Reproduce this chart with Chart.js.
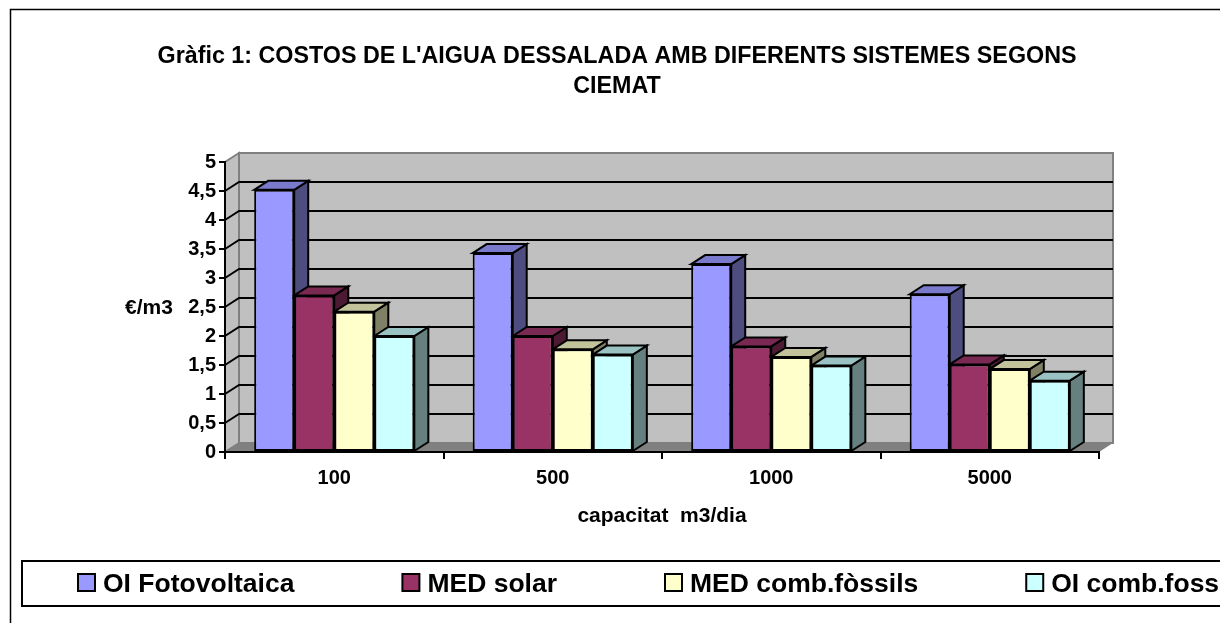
<!DOCTYPE html>
<html>
<head>
<meta charset="utf-8">
<title>Costos de l'aigua dessalada</title>
<script src="https://cdn.jsdelivr.net/npm/chart.js@4"></script>
<style>
  html, body { margin: 0; padding: 0; background: #fff; overflow: hidden; }
  canvas { display: block; }
</style>
</head>
<body>
<canvas id="costos" width="1220" height="623"></canvas>
<script>

/* data */
const categories = ['100', '500', '1000', '5000'];
const seriesNames = ['OI Fotovoltaica', 'MED solar', 'MED comb.fòssils', 'OI comb.fossils'];
const oiFotovoltaica = [4.52, 3.43, 3.24, 2.72];
const medSolar = [2.7, 2.0, 1.82, 1.51];
const medCombFossils = [2.42, 1.77, 1.64, 1.43];
const oiCombFossils = [2.0, 1.68, 1.49, 1.23];
const yTickLabels = ['0', '0,5', '1', '1,5', '2', '2,5', '3', '3,5', '4', '4,5', '5'];

const chartTitle = ["Gràfic 1: COSTOS DE L'AIGUA DESSALADA AMB DIFERENTS SISTEMES SEGONS", 'CIEMAT'];
const yTitle = '€/m3';
const xTitle = 'capacitat  m3/dia';

const frontColors = ['#9999FF', '#993366', '#FFFFCC', '#CCFFFF'];
const topColors = ['#7A7ACC', '#7A2952', '#C2C29B', '#9BC2C2'];
const sideColors = ['#4D4D80', '#4D1A33', '#808066', '#668080'];

const FONT = '"Liberation Sans", Arial, sans-serif';
const DEPTH_X = 14;
const DEPTH_Y = 9;

function poly(ctx, pts, fill, stroke, lw) {
    ctx.beginPath();
    pts.forEach((p, i) => i ? ctx.lineTo(p[0], p[1]) : ctx.moveTo(p[0], p[1]));
    ctx.closePath();
    ctx.fillStyle = fill;
    ctx.fill();
    if (stroke) {
        ctx.strokeStyle = stroke;
        ctx.lineWidth = lw;
        ctx.lineJoin = 'miter';
        ctx.stroke();
    }
}

/* walls and floor behind the axes */
const wallsPlugin = {
    id: 'walls',
    beforeDraw(chart) {
        const ctx = chart.ctx;
        const a = chart.chartArea;
        const y = chart.scales.y;
        ctx.save();
        poly(ctx, [[a.left, a.bottom], [a.left + DEPTH_X, a.bottom - DEPTH_Y], [a.left + DEPTH_X, a.top - DEPTH_Y], [a.left, a.top]], '#C0C0C0', '#808080', 2);
        poly(ctx, [[a.left + DEPTH_X, a.top - DEPTH_Y], [a.right + DEPTH_X, a.top - DEPTH_Y], [a.right + DEPTH_X, a.bottom - DEPTH_Y], [a.left + DEPTH_X, a.bottom - DEPTH_Y]], '#C0C0C0', '#808080', 2);
        poly(ctx, [[a.left, a.bottom], [a.left + DEPTH_X, a.bottom - DEPTH_Y], [a.right + DEPTH_X, a.bottom - DEPTH_Y], [a.right, a.bottom]], '#808080');
        ctx.strokeStyle = '#000';
        ctx.lineWidth = 2;
        y.ticks.forEach(t => {
            if (t.value <= 0 || t.value >= 5) return;
            const py = y.getPixelForValue(t.value);
            ctx.beginPath();
            ctx.moveTo(a.left, py);
            ctx.lineTo(a.left + DEPTH_X, py - DEPTH_Y);
            ctx.lineTo(a.right + DEPTH_X, py - DEPTH_Y);
            ctx.stroke();
        });
        ctx.restore();
    },
    /* top and side of each bar, the bar itself comes from Chart.js on top of these */
    beforeDatasetsDraw(chart) {
        const ctx = chart.ctx;
        ctx.save();
        for (let d = 0; d < chart.data.datasets.length; d++) {
            chart.getDatasetMeta(d).data.forEach(bar => {
                const l = bar.x - bar.width / 2;
                const r = bar.x + bar.width / 2;
                const t = bar.y;
                const b = bar.base;
                poly(ctx, [[r, t], [r + DEPTH_X, t - DEPTH_Y], [r + DEPTH_X, b - DEPTH_Y], [r, b]], sideColors[d], '#000', 2);
                poly(ctx, [[l, t], [l + DEPTH_X, t - DEPTH_Y], [r + DEPTH_X, t - DEPTH_Y], [r, t]], topColors[d], '#000', 2);
            });
        }
        ctx.restore();
    }
};

/* outer frame, horizontal y title and the legend row */
const extrasPlugin = {
    id: 'extras',
    afterDraw(chart) {
        const ctx = chart.ctx;
        ctx.save();
        ctx.strokeStyle = '#000';
        ctx.lineWidth = 1.5;
        ctx.strokeRect(10.5, 9.5, 1300, 700);

        ctx.fillStyle = '#000';
        ctx.font = 'bold 21px ' + FONT;
        ctx.textAlign = 'left';
        ctx.textBaseline = 'middle';
        ctx.fillText(yTitle, 125, 308);

        ctx.lineWidth = 2;
        ctx.strokeRect(22, 561, 1300, 45);

        ctx.font = 'bold 26.5px ' + FONT;
        let x = 78;
        seriesNames.forEach((name, i) => {
            ctx.fillStyle = frontColors[i];
            ctx.fillRect(x, 574, 17, 17);
            ctx.strokeRect(x, 574, 17, 17);
            ctx.fillStyle = '#000';
            ctx.fillText(name, x + 25, 585);
            x += 25 + ctx.measureText(name).width + 108;
        });
        ctx.restore();
    }
};

const ctx_costos = document.getElementById('costos').getContext('2d');
const chart_costos = new Chart(ctx_costos, {
    type: 'bar',
    data: {
        labels: categories,
        datasets: [oiFotovoltaica, medSolar, medCombFossils, oiCombFossils].map((values, i) => ({
            label: seriesNames[i],
            data: values,
            backgroundColor: frontColors[i],
            borderColor: '#000',
            borderWidth: 2,
            borderSkipped: false,
            barPercentage: 1,
            categoryPercentage: 0.733
        }))
    },
    options: {
        responsive: false,
        animation: false,
        layout: { padding: { left: 135, right: 121, top: 0, bottom: 0 } },
        plugins: {
            legend: { display: false },
            tooltip: { enabled: false },
            title: {
                display: true,
                text: chartTitle,
                color: '#000',
                font: { family: FONT, size: 23.3, weight: 'bold', lineHeight: 1.288 },
                padding: { top: 42, bottom: 60 }
            }
        },
        scales: {
            x: {
                afterFit(scale) { scale.height = 171; },
                grid: { drawOnChartArea: false, color: '#000', lineWidth: 2, tickLength: 7 },
                border: { color: '#000', width: 2 },
                ticks: { color: '#000', padding: 7, maxRotation: 0, font: { family: FONT, size: 20, weight: 'bold' } },
                title: {
                    display: true,
                    text: xTitle,
                    color: '#000',
                    font: { family: FONT, size: 21, weight: 'bold' },
                    padding: { top: 0, bottom: 94 }
                }
            },
            y: {
                min: 0,
                max: 5,
                afterFit(scale) { scale.width = 90; },
                grid: { drawOnChartArea: false, color: '#000', lineWidth: 2, tickLength: 6 },
                border: { color: '#000', width: 2 },
                ticks: {
                    stepSize: 0.5,
                    color: '#000',
                    padding: 3,
                    font: { family: FONT, size: 20, weight: 'bold' },
                    callback: (value, index) => yTickLabels[index]
                }
            }
        }
    },
    plugins: [wallsPlugin, extrasPlugin]
});

</script>
</body>
</html>
